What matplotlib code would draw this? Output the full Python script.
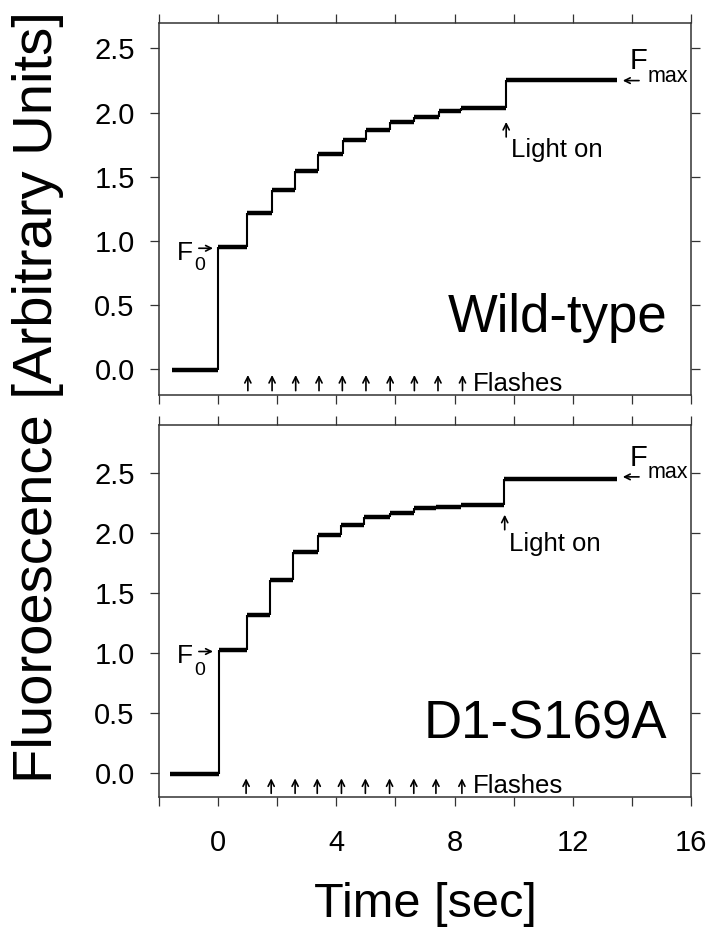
import matplotlib
matplotlib.use('Agg')
import matplotlib.pyplot as plt

plt.rcParams['font.family'] = ['Liberation Sans', 'DejaVu Sans']

# ---------------- data ----------------
# segment boundaries (s) and plateau levels of the fluorescence traces
wt_edges = [-1.57, 0.0, 0.97, 1.81, 2.60, 3.38, 4.23, 5.01, 5.80, 6.64, 7.46, 8.21, 9.75, 13.5]
wt_levels = [-0.005, 0.956, 1.216, 1.393, 1.544, 1.680, 1.784, 1.862, 1.927, 1.966, 2.013, 2.039, 2.253]

mut_edges = [-1.63, 0.02, 0.97, 1.75, 2.54, 3.38, 4.17, 4.95, 5.80, 6.64, 7.37, 8.21, 9.66, 13.5]
mut_levels = [-0.005, 1.028, 1.319, 1.611, 1.839, 1.986, 2.069, 2.133, 2.167, 2.208, 2.217, 2.236, 2.450]

# flash times (arrows)
wt_flashes = [1.00, 1.82, 2.62, 3.41, 4.20, 5.00, 5.82, 6.64, 7.44, 8.27]
mut_flashes = [0.94, 1.79, 2.60, 3.35, 4.17, 4.98, 5.80, 6.62, 7.37, 8.25]

# light-on times
wt_light = 9.75
mut_light = 9.70

panel_names = ["Wild-type", "D1-S169A"]
y_ticks = [0.0, 0.5, 1.0, 1.5, 2.0, 2.5]
x_ticks = [-2, 0, 2, 4, 6, 8, 10, 12, 14, 16]
x_ticklabels = ["", "0", "", "4", "", "8", "", "12", "", "16"]

# ---------------- figure ----------------
fig = plt.figure(figsize=(7.12, 9.35), dpi=100)
W, H = 712.0, 935.0
left = 159.3 / W
width = (690.7 - 159.3) / W
ax_top = fig.add_axes([left, 1 - 395.0 / H, width, (395.0 - 22.7) / H])
ax_bot = fig.add_axes([left, 1 - 797.3 / H, width, (797.3 - 425.0) / H])

spine_col = '#333333'


def style(ax, ylim, show_xlabels):
    ax.set_xlim(-2, 16)
    ax.set_ylim(*ylim)
    ax.set_xticks(x_ticks)
    ax.set_yticks(y_ticks)
    ax.set_yticklabels([f"{v:.1f}" for v in y_ticks])
    if show_xlabels:
        ax.set_xticklabels(x_ticklabels)
    else:
        ax.set_xticklabels([])
    ax.tick_params(axis='both', which='both', direction='out', length=6.7,
                   width=0.9, color=spine_col, top=True, right=True)
    ax.tick_params(axis='y', labelsize=21, pad=11)
    ax.tick_params(axis='x', labelsize=21, pad=16)
    for s in ax.spines.values():
        s.set_color(spine_col)
        s.set_linewidth(1.1)


def trace(ax, edges, levels):
    ax.hlines(levels, edges[:-1], edges[1:], colors='black', linewidth=3.2)
    ax.vlines(edges[1:-1], levels[:-1], levels[1:], colors='black', linewidth=1.5)


def arrow(ax, x0, y0, x1, y1, ms=11, lw=1.2):
    ax.annotate('', xy=(x1, y1), xytext=(x0, y0),
                arrowprops=dict(arrowstyle='->', lw=lw, color='black',
                                shrinkA=0, shrinkB=0, mutation_scale=ms))


def annotate_panel(ax, flashes, light, name, f0, fmax, lo, fl_y, name_y):
    # flashes
    for fx in flashes:
        arrow(ax, fx, fl_y[0], fx, fl_y[1])
    ax.text(8.62, fl_y[0], "Flashes", fontsize=18.5, ha='left', va='baseline')
    # light on
    arrow(ax, light, lo[0], light, lo[1])
    ax.text(light + 0.15, lo[2], "Light on", fontsize=18.5, ha='left', va='baseline')
    # F0
    ax.text(-1.39, f0[0], "F", fontsize=19, ha='left', va='baseline')
    ax.text(-0.80, f0[1], "0", fontsize=14, ha='left', va='baseline')
    arrow(ax, -0.66, f0[2], -0.18, f0[2], ms=10)
    # Fmax
    ax.text(13.93, fmax[0], "F", fontsize=21, ha='left', va='baseline')
    ax.text(14.55, fmax[1], "max", fontsize=15.5, ha='left', va='baseline')
    arrow(ax, 14.25, fmax[1] + 0.01, 13.7, fmax[1] + 0.01, ms=10)
    # panel name
    ax.text(15.2, name_y, name, fontsize=38, ha='right', va='baseline')


style(ax_top, (-0.2, 2.7), False)
style(ax_bot, (-0.2, 2.9), True)

trace(ax_top, wt_edges, wt_levels)
trace(ax_bot, mut_edges, mut_levels)

annotate_panel(ax_top, wt_flashes, wt_light, panel_names[0],
               f0=(0.852, 0.774, 0.943), fmax=(2.343, 2.239),
               lo=(1.81, 1.927, 1.654), fl_y=(-0.166, -0.044), name_y=0.293)
annotate_panel(ax_bot, mut_flashes, mut_light, panel_names[1],
               f0=(0.917, 0.82, 1.014), fmax=(2.556, 2.458),
               lo=(2.028, 2.153, 1.847), fl_y=(-0.167, -0.042), name_y=0.292)

fig.text(0.054, 0.575, "Fluoroescence [Arbitrary Units]", rotation=90,
         fontsize=40.5, ha='center', va='center')
fig.text(425.0 / W, 1 - 916.7 / H, "Time [sec]", fontsize=35,
         ha='center', va='baseline')

fig.savefig('out.png', dpi=100, facecolor='white')
